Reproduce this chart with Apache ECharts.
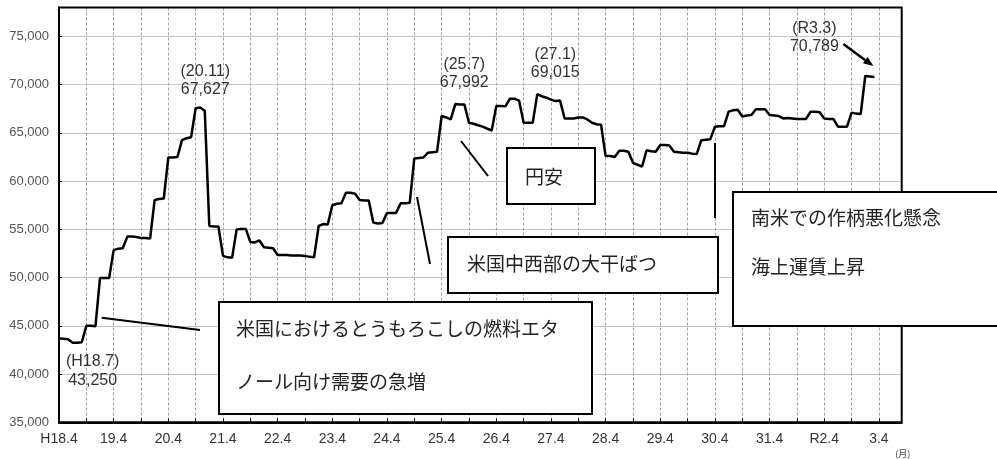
<!DOCTYPE html>
<html><head><meta charset="utf-8">
<script src="https://cdn.jsdelivr.net/npm/echarts@6/dist/echarts.min.js"></script>
<style>html,body{margin:0;padding:0;background:#fff}#c{width:997px;height:459px}</style>
</head><body><div id="c"></div>
<script>
// Monthly price (yen/t), H18.4 .. R3.3 (index 0 = H18.4)
const price = [
  43700, 43650, 43600, 43250, 43250, 43300, 45000, 45000, 44950, 49950, 49950, 49950,
  52850, 53000, 53050, 54250, 54250, 54200, 54100, 54100, 54050, 58050, 58150, 58200,
  62450, 62450, 62500, 64250, 64450, 64550, 67550, 67627, 67300, 55350, 55300, 55300,
  52250, 52100, 52050, 55000, 55050, 55050, 53700, 53650, 53850, 53150, 53100, 53050,
  52350, 52350, 52350, 52300, 52300, 52300, 52250, 52150, 52100, 55350, 55550, 55500,
  57500, 57650, 57700, 58800, 58800, 58700, 58050, 58000, 58000, 55700, 55600, 55650,
  56700, 56700, 56700, 57700, 57700, 57750, 62350, 62400, 62450, 62950, 63000, 63050,
  66750, 66600, 66400, 67992, 67950, 67950, 66050, 65950, 65800, 65650, 65450, 65250,
  67800, 67800, 67750, 68550, 68550, 68350, 66050, 66050, 66050, 69015, 68800, 68650,
  68450, 68300, 68350, 66500, 66500, 66500, 66600, 66600, 66400, 66050, 65900, 65850,
  62600, 62600, 62500, 63150, 63150, 63050, 61900, 61700, 61500, 63200, 63100, 63050,
  63750, 63750, 63700, 63050, 63000, 62950, 62950, 62850, 62800, 64250, 64300, 64350,
  65650, 65700, 65700, 67200, 67350, 67400, 66700, 66800, 66850, 67450, 67450, 67450,
  66850, 66800, 66750, 66500, 66550, 66500, 66450, 66450, 66450, 67200, 67200, 67150,
  66500, 66450, 66450, 65650, 65650, 65650, 67100, 67000, 66950, 70900, 70850, 70789
];
// x tick labels, one per April (every 12 months)
const yearLabels = ['H18.4','19.4','20.4','21.4','22.4','23.4','24.4','25.4','26.4','27.4','28.4','29.4','30.4','31.4','R2.4','3.4'];
const yTicks = [35000, 40000, 45000, 50000, 55000, 60000, 65000, 70000, 75000];
// callouts: month index and tag
const calloutMonths = [3, 31, 87, 105, 179];
const calloutTags = ['(H18.7)', '(20.11)', '(25.7)', '(27.1)', '(R3.3)'];
// annotation notes
const notes = [
  ['米国におけるとうもろこしの燃料エタ', 'ノール向け需要の急増'],
  ['米国中西部の大干ばつ'],
  ['円安'],
  ['南米での作柄悪化懸念', '海上運賃上昇']
];
const unitLabel = '(月)';

const fmt = v => String(v).replace(/\B(?=(\d{3})+(?!\d))/g, ',');
const chart = echarts.init(document.getElementById('c'));
const lastMonth = 185;
chart.setOption({
  animation: false,
  backgroundColor: '#fff',
  grid: { left: 59, top: 7.5, right: 95.3, bottom: 36.7, containLabel: false },
  xAxis: {
    type: 'value', min: 0, max: lastMonth, interval: 6,
    axisLine: { show: true, onZero: false, lineStyle: { color: '#000', width: 2 } },
    axisTick: { show: true, inside: true, length: 4, lineStyle: { color: '#000', width: 1 } },
    axisLabel: {
      formatter: v => (v % 12 === 0 && yearLabels[v / 12]) ? yearLabels[v / 12] : '',
      showMaxLabel: false, color: '#333', fontSize: 14,
      fontFamily: '"Liberation Sans", Arial, sans-serif', margin: 10
    },
    splitLine: { show: true, lineStyle: { color: '#a0a0a0', type: [3, 2], width: 1 } }
  },
  yAxis: {
    type: 'value', min: 35000, max: 78000, interval: 5000,
    axisLine: { show: true, lineStyle: { color: '#000', width: 2 } },
    axisTick: { show: true, inside: true, length: 3, lineStyle: { color: '#000' } },
    axisLabel: {
      formatter: v => yTicks.indexOf(v) >= 0 ? fmt(v) : '',
      showMaxLabel: false, color: '#555', fontSize: 13,
      fontFamily: '"Liberation Sans", Arial, sans-serif', margin: 10
    },
    splitLine: { show: true, lineStyle: { color: '#c4c4c4', width: 1 } }
  },
  series: [{
    type: 'line', data: price.map((v, i) => [i, v]),
    showSymbol: false, symbol: 'none',
    lineStyle: { color: '#000', width: 2.5 }, z: 3
  }]
});

const px = (x, y) => chart.convertToPixel({ gridIndex: 0 }, [x, y]);
const tl = px(0, 78000), br = px(lastMonth, 35000);
const g = [];
// frame
g.push({ type: 'rect', z: 50, shape: { x: tl[0], y: tl[1], width: br[0] - tl[0], height: br[1] - tl[1] },
  style: { fill: null, stroke: '#000', lineWidth: 2 } });

// callouts
const calloutOffsets = [[20, 10], [5, -45], [9, -49], [18, -49], [-60, -58]];
calloutMonths.forEach((m, k) => {
  const p = px(m, price[m]);
  g.push({ type: 'text', z: 60, x: p[0] + calloutOffsets[k][0], y: p[1] + calloutOffsets[k][1],
    style: { text: calloutTags[k] + '\n' + fmt(price[m]), fill: '#333', align: 'center', verticalAlign: 'top',
      font: '16px "Liberation Sans", Arial, sans-serif', lineHeight: 18.3 } });
});

// arrow to the last point
const lp = px(179, price[179]);
const a0 = [lp[0] - 31, lp[1] - 33], a1 = [lp[0] - 1, lp[1] - 11];
const dx = a1[0] - a0[0], dy = a1[1] - a0[1], L = Math.hypot(dx, dy), ux = dx / L, uy = dy / L;
const hb = [a1[0] - 10 * ux, a1[1] - 10 * uy];
g.push({ type: 'line', z: 60, shape: { x1: a0[0], y1: a0[1], x2: hb[0], y2: hb[1] }, style: { stroke: '#000', lineWidth: 2.5 } });
g.push({ type: 'polygon', z: 60, shape: { points: [a1, [hb[0] - 4 * uy, hb[1] + 4 * ux], [hb[0] + 4 * uy, hb[1] - 4 * ux]] }, style: { fill: '#000' } });

// leader lines
const leaders = [[101.7, 317.7, 200, 330], [417, 197, 430, 264], [461, 141, 488, 176], [715, 143, 715, 218]];
leaders.forEach(l => g.push({ type: 'line', z: 60, shape: { x1: l[0], y1: l[1], x2: l[2], y2: l[3] }, style: { stroke: '#000', lineWidth: 2 } }));

// note boxes
const boxes = [
  { r: [219, 302, 373, 112], tx: 236, ty: [329, 381.5] },
  { r: [448, 237, 270, 56], tx: 467, ty: [264] },
  { r: [507, 148, 88, 56], tx: 525, ty: [177] },
  { r: [733, 192, 280, 134], tx: 751, ty: [218, 267] }
];
boxes.forEach((b, k) => {
  g.push({ type: 'rect', z: 70, shape: { x: b.r[0], y: b.r[1], width: b.r[2], height: b.r[3] },
    style: { fill: '#fff', stroke: '#000', lineWidth: 2 } });
  notes[k].forEach((t, j) => g.push({ type: 'text', z: 71, x: b.tx, y: b.ty[j],
    style: { text: t, fill: '#222', align: 'left', verticalAlign: 'middle', font: '19px "Noto Sans CJK JP", sans-serif' } }));
});

// unit label
g.push({ type: 'text', z: 60, x: br[0] + 1, y: 454,
  style: { text: unitLabel, fill: '#444', align: 'center', verticalAlign: 'middle', font: '9px "Noto Sans CJK JP", sans-serif' } });

chart.setOption({ graphic: { elements: g } });
</script>
</body></html>
